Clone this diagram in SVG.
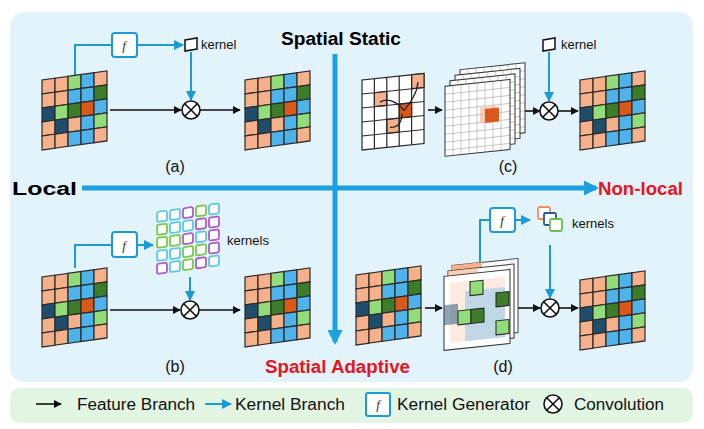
<svg xmlns="http://www.w3.org/2000/svg" width="704" height="429" viewBox="0 0 704 429">
<defs>
<style>
text{font-family:"Liberation Sans",Arial,sans-serif}
.t{font-weight:bold;font-size:18px}
.lb{font-size:16px;fill:#111}
.sm{font-size:13px;fill:#111}
.k{stroke:#1B9AD6;stroke-width:2;fill:none}
.fb{stroke:#111;stroke-width:1.6;fill:none}
.fbox{fill:#fff;stroke:#1B9AD6;stroke-width:2}
.ft{font-family:"Liberation Serif",serif;font-style:italic;font-size:13px;fill:#333}
.P{fill:#F6B08A}.L{fill:#93DC7A}.B{fill:#4DB3EA}.D{fill:#3D7D2A}.N{fill:#1E4E6B}.O{fill:#D9591A}.W{fill:#fff}
</style>
<marker id="ab" viewBox="0 0 10 10" refX="9" refY="5" markerWidth="5" markerHeight="5" orient="auto"><path d="M0,0L10,5L0,10z" fill="#111"/></marker>
<marker id="ak" viewBox="0 0 10 10" refX="9" refY="5" markerWidth="5" markerHeight="5" orient="auto"><path d="M0,0L10,5L0,10z" fill="#1B9AD6"/></marker>
<marker id="ax" viewBox="0 0 10 10" refX="8" refY="5" markerWidth="3" markerHeight="3" orient="auto"><path d="M0,0L10,5L0,10z" fill="#1BA1E2"/></marker>
<g id="fm" stroke="#2a2a2a" stroke-width="1.2">
<rect class="P" x="0" y="0" width="13" height="14"/><rect class="P" x="13" y="0" width="13" height="14"/><rect class="L" x="26" y="0" width="13" height="14"/><rect class="B" x="39" y="0" width="13" height="14"/><rect class="P" x="52" y="0" width="13" height="14"/>
<rect class="P" x="0" y="14" width="13" height="14"/><rect class="P" x="13" y="14" width="13" height="14"/><rect class="B" x="26" y="14" width="13" height="14"/><rect class="B" x="39" y="14" width="13" height="14"/><rect class="D" x="52" y="14" width="13" height="14"/>
<rect class="N" x="0" y="28" width="13" height="14"/><rect class="L" x="13" y="28" width="13" height="14"/><rect class="D" x="26" y="28" width="13" height="14"/><rect class="O" x="39" y="28" width="13" height="14"/><rect class="B" x="52" y="28" width="13" height="14"/>
<rect class="P" x="0" y="42" width="13" height="14"/><rect class="N" x="13" y="42" width="13" height="14"/><rect class="P" x="26" y="42" width="13" height="14"/><rect class="B" x="39" y="42" width="13" height="14"/><rect class="L" x="52" y="42" width="13" height="14"/>
<rect class="P" x="0" y="56" width="13" height="14"/><rect class="P" x="13" y="56" width="13" height="14"/><rect class="B" x="26" y="56" width="13" height="14"/><rect class="B" x="39" y="56" width="13" height="14"/><rect class="P" x="52" y="56" width="13" height="14"/>
</g>
<g id="otimes"><circle r="9" fill="#fff" stroke="#111" stroke-width="1.6"/><path d="M-6.3,-6.3L6.3,6.3M6.3,-6.3L-6.3,6.3" stroke="#111" stroke-width="1.6"/></g>
<g id="wg">
<rect width="65" height="70" fill="#fff"/><path d="M8,0V70M16,0V70M24,0V70M32,0V70M40,0V70M48,0V70M56,0V70M0,8H65M0,16H65M0,24H65M0,32H65M0,40H65M0,48H65M0,56H65M0,64H65" fill="none" stroke="#bbb" stroke-width="0.8"/>
<rect width="65" height="70" fill="none" stroke="#333" stroke-width="1"/>
</g>
</defs>
<rect x="10" y="12" width="683" height="370" rx="14" fill="#E3F3FB"/>
<rect x="10" y="388" width="683" height="35" rx="10" fill="#E2F4E2"/>

<g id="axes">
<line x1="82" y1="188" x2="596" y2="188" stroke="#1BA1E2" stroke-width="5" marker-end="url(#ax)"/>
<line x1="335" y1="54" x2="335" y2="342" stroke="#1BA1E2" stroke-width="5" marker-end="url(#ax)"/>
</g>
<text class="t" x="341" y="45" text-anchor="middle" textLength="120" lengthAdjust="spacingAndGlyphs">Spatial Static</text>
<text class="t" x="12" y="195" textLength="65" lengthAdjust="spacingAndGlyphs">Local</text>
<text class="t" x="598" y="195" fill="#E8141E" textLength="85" lengthAdjust="spacingAndGlyphs">Non-local</text>
<text class="t" x="265" y="373" fill="#E8141E" textLength="145" lengthAdjust="spacingAndGlyphs">Spatial Adaptive</text>
<text class="lb" x="175" y="172" text-anchor="middle">(a)</text>
<text class="lb" x="175" y="372" text-anchor="middle">(b)</text>
<text class="lb" x="508" y="172" text-anchor="middle">(c)</text>
<text class="lb" x="503" y="372" text-anchor="middle">(d)</text>

<g id="connectors">
<path class="k" d="M75,75V45H112"/><line class="k" x1="137" y1="45" x2="183" y2="45" marker-end="url(#ak)"/>
<line class="k" x1="191" y1="52" x2="191" y2="100" marker-end="url(#ak)"/>
<line class="fb" x1="110" y1="110" x2="181" y2="110" marker-end="url(#ab)"/>
<line class="fb" x1="200" y1="110" x2="240" y2="110" marker-end="url(#ab)"/>
<path class="k" d="M75,268V245H112"/><line class="k" x1="137" y1="245" x2="153" y2="245" marker-end="url(#ak)"/>
<line class="k" x1="190" y1="277" x2="190" y2="300" marker-end="url(#ak)"/>
<line class="fb" x1="110" y1="310" x2="180" y2="310" marker-end="url(#ab)"/>
<line class="fb" x1="199" y1="310" x2="240" y2="310" marker-end="url(#ab)"/>
<line class="fb" x1="428" y1="110" x2="442" y2="110" marker-end="url(#ab)"/>
<line class="k" x1="549" y1="52" x2="549" y2="101" marker-end="url(#ak)"/>
<line class="fb" x1="522" y1="111" x2="540" y2="111" marker-end="url(#ab)"/>
<line class="fb" x1="558" y1="111" x2="578" y2="111" marker-end="url(#ab)"/>
<path class="k" d="M480,265V220H490"/><line class="k" x1="515" y1="220" x2="530" y2="220" marker-end="url(#ak)"/>
<line class="k" x1="550" y1="245" x2="550" y2="298" marker-end="url(#ak)"/>
<line class="fb" x1="425" y1="308" x2="442" y2="308" marker-end="url(#ab)"/>
<line class="fb" x1="518" y1="308" x2="540" y2="308" marker-end="url(#ab)"/>
<line class="fb" x1="559" y1="308" x2="578" y2="308" marker-end="url(#ab)"/>
</g>

<g id="panel-a">
<use href="#fm" transform="translate(42,80) skewY(-8)"/>
<use href="#fm" transform="translate(245,80) skewY(-8)"/>
<rect class="fbox" x="112" y="33" width="25" height="24" rx="3"/><text class="ft" x="124" y="50" text-anchor="middle">f</text>
<path d="M185,40L197,38V49L185,51z" fill="#fff" stroke="#111" stroke-width="1.5"/>
<text class="sm" x="201" y="49">kernel</text>
<use href="#otimes" x="191" y="110"/>
</g>

<g id="panel-b">
<use href="#fm" transform="translate(42,277) skewY(-8)"/>
<use href="#fm" transform="translate(245,277) skewY(-8)"/>
<rect class="fbox" x="112" y="232" width="25" height="25" rx="3"/><text class="ft" x="124" y="250" text-anchor="middle">f</text>
<g transform="translate(157,212) skewY(-8)" fill="#fff" stroke-width="1.8">
<rect x="0" y="0" width="10" height="10" rx="2" stroke="#5BC8E8"/><rect x="13" y="0" width="10" height="10" rx="2" stroke="#5BC8E8"/><rect x="26" y="0" width="10" height="10" rx="2" stroke="#B05BC8"/><rect x="39" y="0" width="10" height="10" rx="2" stroke="#7BC84B"/><rect x="52" y="0" width="10" height="10" rx="2" stroke="#5BC8E8"/>
<rect x="0" y="13" width="10" height="10" rx="2" stroke="#7BC84B"/><rect x="13" y="13" width="10" height="10" rx="2" stroke="#5BC8E8"/><rect x="26" y="13" width="10" height="10" rx="2" stroke="#5BC8E8"/><rect x="39" y="13" width="10" height="10" rx="2" stroke="#B05BC8"/><rect x="52" y="13" width="10" height="10" rx="2" stroke="#B05BC8"/>
<rect x="0" y="26" width="10" height="10" rx="2" stroke="#7BC84B"/><rect x="13" y="26" width="10" height="10" rx="2" stroke="#7BC84B"/><rect x="26" y="26" width="10" height="10" rx="2" stroke="#B05BC8"/><rect x="39" y="26" width="10" height="10" rx="2" stroke="#5BC8E8"/><rect x="52" y="26" width="10" height="10" rx="2" stroke="#B05BC8"/>
<rect x="0" y="39" width="10" height="10" rx="2" stroke="#5BC8E8"/><rect x="13" y="39" width="10" height="10" rx="2" stroke="#5BC8E8"/><rect x="26" y="39" width="10" height="10" rx="2" stroke="#7BC84B"/><rect x="39" y="39" width="10" height="10" rx="2" stroke="#7BC84B"/><rect x="52" y="39" width="10" height="10" rx="2" stroke="#B05BC8"/>
<rect x="0" y="52" width="10" height="10" rx="2" stroke="#B05BC8"/><rect x="13" y="52" width="10" height="10" rx="2" stroke="#5BC8E8"/><rect x="26" y="52" width="10" height="10" rx="2" stroke="#7BC84B"/><rect x="39" y="52" width="10" height="10" rx="2" stroke="#B05BC8"/><rect x="52" y="52" width="10" height="10" rx="2" stroke="#5BC8E8"/>
</g>
<text class="sm" x="227" y="245">kernels</text>
<use href="#otimes" x="190" y="310"/>
</g>

<g id="panel-c">
<g transform="translate(362,80) skewY(-6)" stroke="#2a2a2a" stroke-width="1.2">
<rect width="62" height="70" fill="#fff"/>
<rect x="49.6" y="0" width="12.4" height="14" class="P"/><rect x="12.4" y="14" width="12.4" height="14" class="P"/><rect x="37.2" y="28" width="12.4" height="14" class="O"/><rect x="24.8" y="42" width="12.4" height="14" class="P"/>
<path d="M12.4,0V70M24.8,0V70M37.2,0V70M49.6,0V70M0,14H62M0,28H62M0,42H62M0,56H62" fill="none"/>
<path d="M42,35C35,25 25,20 18,24M42,35C48,28 55,20 56,8M40,38C40,48 34,52 28,50" fill="none" stroke="#222" stroke-width="1.3"/>
</g>
<g transform="skewY(-6)">
<use href="#wg" x="460" y="118"/>
<use href="#wg" x="455" y="123"/>
<use href="#wg" x="450" y="128"/>
<use href="#wg" x="445" y="133"/>
<rect x="480" y="158" width="16" height="16" fill="#F6B08A" opacity="0.6"/>
<rect x="485" y="160" width="14" height="14" fill="#D9591A"/>
</g>
<path d="M543,40L555,38V49L543,51z" fill="#fff" stroke="#111" stroke-width="1.5"/>
<text class="sm" x="561" y="49">kernel</text>
<use href="#otimes" x="549" y="111"/>
<use href="#fm" transform="translate(580,80) skewY(-8)"/>
</g>

<g id="panel-d">
<use href="#fm" transform="translate(356,275) skewY(-8)"/>
<g transform="skewY(-6)">
<rect x="452" y="313" width="66" height="74" fill="#fff" stroke="#333" opacity="0.9"/>
<rect x="452" y="313" width="30" height="14" fill="#F6B08A"/>
<rect x="448" y="318" width="66" height="74" fill="#fff" stroke="#333"/>
<rect x="448" y="318" width="30" height="20" fill="#F6B08A" opacity="0.6"/>
<rect x="444" y="323" width="66" height="74" fill="#fff" stroke="#333"/>
<rect x="450" y="330" width="55" height="60" fill="#F6B08A" opacity="0.25"/>
<rect x="465" y="340" width="40" height="50" fill="#4DB3EA" opacity="0.35"/>
<rect x="444" y="352" width="14" height="20" fill="#1E4E6B" opacity="0.5"/>
<rect x="470" y="331" width="13" height="14" class="L" stroke="#222"/>
<rect x="496" y="345" width="13" height="14" class="D" stroke="#222"/>
<rect x="458" y="359" width="13" height="14" class="L" stroke="#222"/>
<rect x="471" y="359" width="13" height="14" class="D" stroke="#222"/>
<rect x="496" y="373" width="13" height="14" class="L" stroke="#222"/>
</g>
<rect class="fbox" x="490" y="208" width="25" height="24" rx="3"/><text class="ft" x="502" y="225" text-anchor="middle">f</text>
<rect x="538" y="207" width="12" height="12" rx="1.5" fill="#fff" stroke="#F09060" stroke-width="1.8"/>
<rect x="544" y="213" width="12" height="12" rx="1.5" fill="#fff" stroke="#2a5a8a" stroke-width="1.8"/>
<rect x="550" y="219" width="12" height="12" rx="1.5" fill="#fff" stroke="#6BBF4B" stroke-width="1.8"/>
<text class="sm" x="572" y="228">kernels</text>
<use href="#otimes" x="550" y="308"/>
<use href="#fm" transform="translate(580,280) skewY(-8)"/>
</g>

<g id="legend">
<line class="fb" x1="36" y1="404" x2="61" y2="404" marker-end="url(#ab)"/>
<text class="lb" x="77" y="410" textLength="118" lengthAdjust="spacingAndGlyphs">Feature Branch</text>
<line class="k" x1="205" y1="404" x2="231" y2="404" marker-end="url(#ak)"/>
<text class="lb" x="235" y="410" textLength="110" lengthAdjust="spacingAndGlyphs">Kernel Branch</text>
<rect class="fbox" x="366" y="393" width="24" height="23" rx="2"/><text class="ft" x="378" y="409" text-anchor="middle" font-size="12">f</text>
<text class="lb" x="397" y="410" textLength="133" lengthAdjust="spacingAndGlyphs">Kernel Generator</text>
<use href="#otimes" x="553" y="404"/>
<text class="lb" x="574" y="410" textLength="90" lengthAdjust="spacingAndGlyphs">Convolution</text>
</g>
</svg>
